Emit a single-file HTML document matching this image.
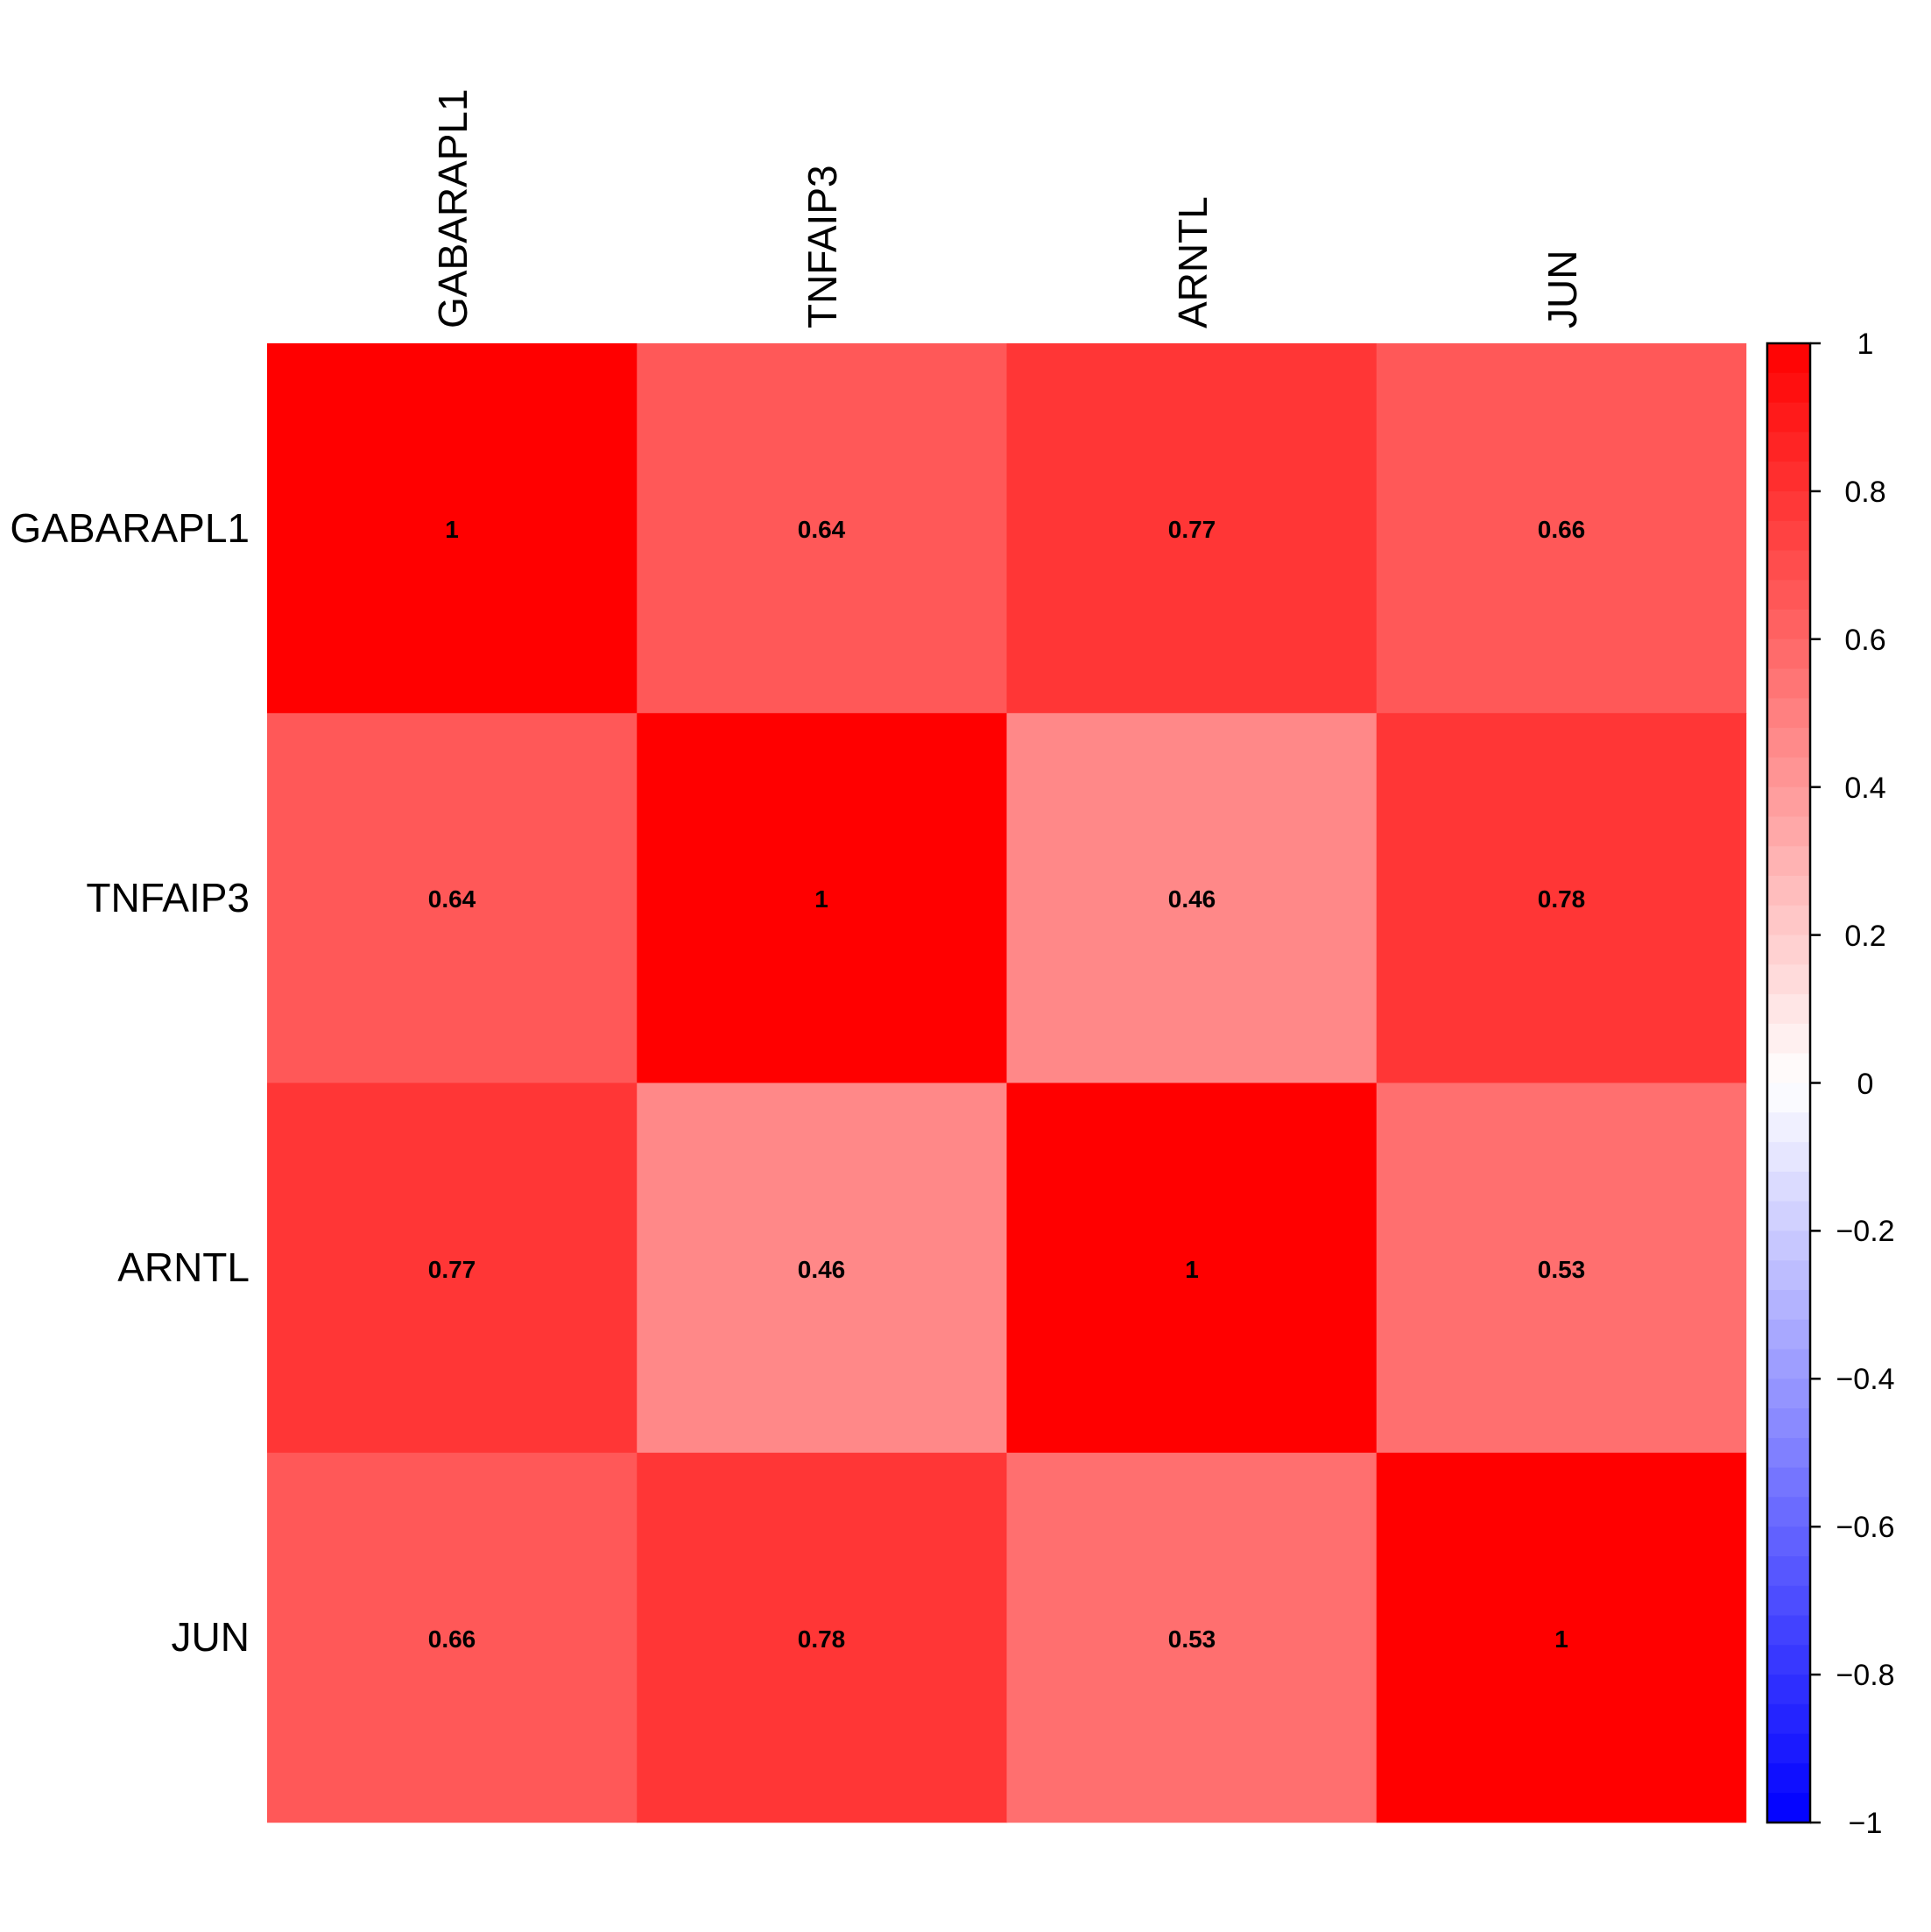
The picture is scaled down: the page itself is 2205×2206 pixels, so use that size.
<!DOCTYPE html>
<html><head><meta charset="utf-8"><style>html,body{margin:0;padding:0;background:#fff}svg{display:block}</style></head>
<body>
<svg xmlns="http://www.w3.org/2000/svg" width="2205" height="2206" viewBox="0 0 2205 2206">
<rect width="2205" height="2206" fill="#fff"/>
<g>
<rect x="305" y="392" width="423" height="423" fill="#ff0000"/>
<rect x="727.25" y="392" width="423" height="423" fill="#ff5858"/>
<rect x="1149.5" y="392" width="423" height="423" fill="#ff3636"/>
<rect x="1571.75" y="392" width="422.5" height="423" fill="#ff5858"/>
<rect x="305" y="814.25" width="423" height="423" fill="#ff5858"/>
<rect x="727.25" y="814.25" width="423" height="423" fill="#ff0000"/>
<rect x="1149.5" y="814.25" width="423" height="423" fill="#ff8888"/>
<rect x="1571.75" y="814.25" width="422.5" height="423" fill="#ff3636"/>
<rect x="305" y="1236.5" width="423" height="423" fill="#ff3636"/>
<rect x="727.25" y="1236.5" width="423" height="423" fill="#ff8888"/>
<rect x="1149.5" y="1236.5" width="423" height="423" fill="#ff0000"/>
<rect x="1571.75" y="1236.5" width="422.5" height="423" fill="#ff6f6f"/>
<rect x="305" y="1658.75" width="423" height="422.5" fill="#ff5858"/>
<rect x="727.25" y="1658.75" width="423" height="422.5" fill="#ff3636"/>
<rect x="1149.5" y="1658.75" width="423" height="422.5" fill="#ff6f6f"/>
<rect x="1571.75" y="1658.75" width="422.5" height="422.5" fill="#ff0000"/>
</g>
<g font-family="Liberation Sans, Arial, sans-serif" font-weight="bold" font-size="28" text-anchor="middle" fill="#000">
<text x="516" y="614">1</text><text x="938" y="614">0.64</text><text x="1361" y="614">0.77</text><text x="1783" y="614">0.66</text>
<text x="516" y="1036">0.64</text><text x="938" y="1036">1</text><text x="1361" y="1036">0.46</text><text x="1783" y="1036">0.78</text>
<text x="516" y="1459">0.77</text><text x="938" y="1459">0.46</text><text x="1361" y="1459">1</text><text x="1783" y="1459">0.53</text>
<text x="516" y="1881">0.66</text><text x="938" y="1881">0.78</text><text x="1361" y="1881">0.53</text><text x="1783" y="1881">1</text>
</g>
<g>
<rect x="2018" y="392" width="49" height="34.5" fill="rgb(255,5,5)"/>
<rect x="2018" y="425.8" width="49" height="34.5" fill="rgb(255,15,15)"/>
<rect x="2018" y="459.6" width="49" height="34.5" fill="rgb(255,26,26)"/>
<rect x="2018" y="493.3" width="49" height="34.5" fill="rgb(255,36,36)"/>
<rect x="2018" y="527.1" width="49" height="34.5" fill="rgb(255,46,46)"/>
<rect x="2018" y="560.9" width="49" height="34.5" fill="rgb(255,56,56)"/>
<rect x="2018" y="594.7" width="49" height="34.5" fill="rgb(255,66,66)"/>
<rect x="2018" y="628.5" width="49" height="34.5" fill="rgb(255,77,77)"/>
<rect x="2018" y="662.2" width="49" height="34.5" fill="rgb(255,87,87)"/>
<rect x="2018" y="696.0" width="49" height="34.5" fill="rgb(255,97,97)"/>
<rect x="2018" y="729.8" width="49" height="34.5" fill="rgb(255,107,107)"/>
<rect x="2018" y="763.6" width="49" height="34.5" fill="rgb(255,117,117)"/>
<rect x="2018" y="797.4" width="49" height="34.5" fill="rgb(255,128,128)"/>
<rect x="2018" y="831.1" width="49" height="34.5" fill="rgb(255,138,138)"/>
<rect x="2018" y="864.9" width="49" height="34.5" fill="rgb(255,148,148)"/>
<rect x="2018" y="898.7" width="49" height="34.5" fill="rgb(255,158,158)"/>
<rect x="2018" y="932.5" width="49" height="34.5" fill="rgb(255,168,168)"/>
<rect x="2018" y="966.3" width="49" height="34.5" fill="rgb(255,179,179)"/>
<rect x="2018" y="1000.0" width="49" height="34.5" fill="rgb(255,189,189)"/>
<rect x="2018" y="1033.8" width="49" height="34.5" fill="rgb(255,199,199)"/>
<rect x="2018" y="1067.6" width="49" height="34.5" fill="rgb(255,209,209)"/>
<rect x="2018" y="1101.4" width="49" height="34.5" fill="rgb(255,219,219)"/>
<rect x="2018" y="1135.2" width="49" height="34.5" fill="rgb(255,230,230)"/>
<rect x="2018" y="1168.9" width="49" height="34.5" fill="rgb(255,240,240)"/>
<rect x="2018" y="1202.7" width="49" height="34.5" fill="rgb(255,250,250)"/>
<rect x="2018" y="1236.5" width="49" height="34.5" fill="rgb(250,250,255)"/>
<rect x="2018" y="1270.3" width="49" height="34.5" fill="rgb(240,240,255)"/>
<rect x="2018" y="1304.1" width="49" height="34.5" fill="rgb(230,230,255)"/>
<rect x="2018" y="1337.8" width="49" height="34.5" fill="rgb(219,219,255)"/>
<rect x="2018" y="1371.6" width="49" height="34.5" fill="rgb(209,209,255)"/>
<rect x="2018" y="1405.4" width="49" height="34.5" fill="rgb(199,199,255)"/>
<rect x="2018" y="1439.2" width="49" height="34.5" fill="rgb(189,189,255)"/>
<rect x="2018" y="1473.0" width="49" height="34.5" fill="rgb(179,179,255)"/>
<rect x="2018" y="1506.7" width="49" height="34.5" fill="rgb(168,168,255)"/>
<rect x="2018" y="1540.5" width="49" height="34.5" fill="rgb(158,158,255)"/>
<rect x="2018" y="1574.3" width="49" height="34.5" fill="rgb(148,148,255)"/>
<rect x="2018" y="1608.1" width="49" height="34.5" fill="rgb(138,138,255)"/>
<rect x="2018" y="1641.9" width="49" height="34.5" fill="rgb(128,128,255)"/>
<rect x="2018" y="1675.6" width="49" height="34.5" fill="rgb(117,117,255)"/>
<rect x="2018" y="1709.4" width="49" height="34.5" fill="rgb(107,107,255)"/>
<rect x="2018" y="1743.2" width="49" height="34.5" fill="rgb(97,97,255)"/>
<rect x="2018" y="1777.0" width="49" height="34.5" fill="rgb(87,87,255)"/>
<rect x="2018" y="1810.8" width="49" height="34.5" fill="rgb(77,77,255)"/>
<rect x="2018" y="1844.5" width="49" height="34.5" fill="rgb(66,66,255)"/>
<rect x="2018" y="1878.3" width="49" height="34.5" fill="rgb(56,56,255)"/>
<rect x="2018" y="1912.1" width="49" height="34.5" fill="rgb(46,46,255)"/>
<rect x="2018" y="1945.9" width="49" height="34.5" fill="rgb(36,36,255)"/>
<rect x="2018" y="1979.7" width="49" height="34.5" fill="rgb(26,26,255)"/>
<rect x="2018" y="2013.4" width="49" height="34.5" fill="rgb(15,15,255)"/>
<rect x="2018" y="2047.2" width="49" height="33.8" fill="rgb(5,5,255)"/>
<rect x="2018" y="392" width="49" height="1689" fill="none" stroke="#000" stroke-width="2.5"/>
</g>
<g stroke="#000" stroke-width="2.5">
<line x1="2067" x2="2079" y1="392" y2="392"/>
<line x1="2067" x2="2079" y1="560.9" y2="560.9"/>
<line x1="2067" x2="2079" y1="729.8" y2="729.8"/>
<line x1="2067" x2="2079" y1="898.7" y2="898.7"/>
<line x1="2067" x2="2079" y1="1067.6" y2="1067.6"/>
<line x1="2067" x2="2079" y1="1236.5" y2="1236.5"/>
<line x1="2067" x2="2079" y1="1405.4" y2="1405.4"/>
<line x1="2067" x2="2079" y1="1574.3" y2="1574.3"/>
<line x1="2067" x2="2079" y1="1743.2" y2="1743.2"/>
<line x1="2067" x2="2079" y1="1912.1" y2="1912.1"/>
<line x1="2067" x2="2079" y1="2081" y2="2081"/>
</g>
<g font-family="Liberation Sans, Arial, sans-serif" font-size="34" text-anchor="middle" fill="#000">
<text x="2130" y="404">1</text>
<text x="2130" y="573">0.8</text>
<text x="2130" y="742">0.6</text>
<text x="2130" y="911">0.4</text>
<text x="2130" y="1080">0.2</text>
<text x="2130" y="1249">0</text>
<text x="2130" y="1417">−0.2</text>
<text x="2130" y="1586">−0.4</text>
<text x="2130" y="1755">−0.6</text>
<text x="2130" y="1924">−0.8</text>
<text x="2130" y="2093">−1</text>
</g>
<g font-family="Liberation Sans, Arial, sans-serif" font-size="46" fill="#000">
<text x="533" y="375" transform="rotate(-90 533 375)">GABARAPL1</text>
<text x="955" y="375" transform="rotate(-90 955 375)">TNFAIP3</text>
<text x="1378" y="375" transform="rotate(-90 1378 375)">ARNTL</text>
<text x="1800" y="375" transform="rotate(-90 1800 375)">JUN</text>
<g text-anchor="end">
<text x="285" y="619">GABARAPL1</text>
<text x="285" y="1041">TNFAIP3</text>
<text x="285" y="1463">ARNTL</text>
<text x="285" y="1885">JUN</text>
</g>
</g>
</svg>
</body></html>
